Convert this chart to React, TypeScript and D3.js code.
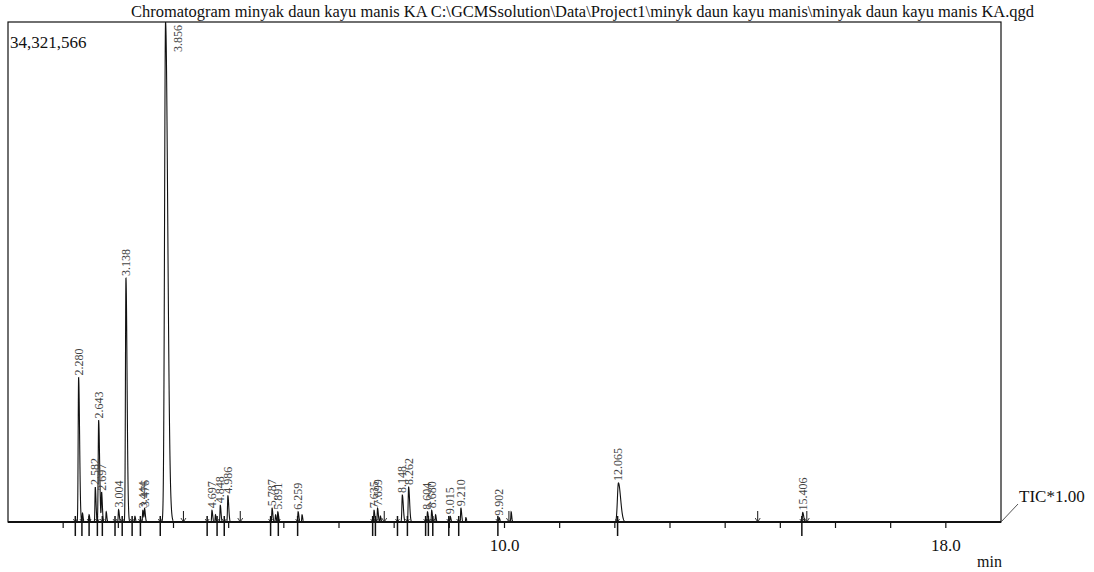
import React from "react";
import * as d3 from "d3";

const TITLE = "Chromatogram minyak daun kayu manis KA C:\\GCMSsolution\\Data\\Project1\\minyk daun kayu manis\\minyak daun kayu manis KA.qgd";
const MAX_INTENSITY = 34321566;
const MAX_LABEL = "34,321,566";

// labelled peaks: retention time (min), intensity, sigma (min)
const peakTimes = [2.280, 2.582, 2.643, 2.697, 3.004, 3.138, 3.444, 3.476, 3.856, 4.697, 4.848, 4.986, 5.787, 5.891, 6.259, 7.635, 7.699, 8.148, 8.262, 8.604, 8.680, 9.015, 9.210, 9.902, 12.065, 15.406];
const peakHeights = [9920000, 2400000, 6970000, 2000000, 850000, 16750000, 800000, 900000, 34321566, 800000, 1150000, 1800000, 950000, 700000, 700000, 800000, 950000, 1850000, 2400000, 700000, 800000, 400000, 950000, 300000, 2680000, 650000];
const peakSigmas = [0.008, 0.006, 0.008, 0.006, 0.006, 0.009, 0.006, 0.006, 0.018, 0.006, 0.006, 0.007, 0.006, 0.006, 0.006, 0.006, 0.006, 0.008, 0.008, 0.006, 0.006, 0.006, 0.006, 0.006, 0.018, 0.008];

// unlabelled small peaks
const minorTimes = [2.35, 2.47, 2.78, 3.30, 4.76, 5.85, 6.33, 7.75, 8.75, 9.30, 10.12];
const minorHeights = [600000, 500000, 700000, 400000, 500000, 500000, 500000, 400000, 500000, 300000, 700000];

// integration marks (peak start) below the baseline
const markTimes = [2.22, 2.34, 2.47, 2.62, 2.71, 2.94, 3.07, 3.25, 3.40, 3.76, 4.61, 4.79, 4.92, 5.76, 5.90, 6.25, 7.61, 7.66, 8.06, 8.24, 8.57, 8.62, 8.70, 8.99, 9.17, 9.88, 12.05, 15.39];
// arrows standing on the baseline
const arrowTimes = [4.18, 5.21, 7.82, 10.08, 14.59, 15.48];

const axisTicks = [2, 3, 4, 5, 6, 7, 8, 9, 10, 11, 12, 13, 14, 15, 16, 17, 18];
const axisLabels = [10.0, 18.0];
const X_DOMAIN = [1.0, 19.0];

export default function App() {
  const left = 8, right = 1001, top = 22, bottom = 522;
  const x = d3.scaleLinear().domain(X_DOMAIN).range([left, right]);
  const y = d3.scaleLinear().domain([0, MAX_INTENSITY]).range([bottom, top]);

  const allT = [...peakTimes, ...minorTimes];
  const allH = [...peakHeights, ...minorHeights];
  const allS = [...peakSigmas, ...minorTimes.map(() => 0.005)];
  const tail = 2.2;

  const step = 0.0015;
  const pts: [number, number][] = [];
  for (let t = X_DOMAIN[0]; t <= X_DOMAIN[1] + 1e-9; t += step) {
    let v = 0;
    for (let i = 0; i < allT.length; i++) {
      const d = t - allT[i];
      const s = d < 0 ? allS[i] : allS[i] * tail;
      if (Math.abs(d) < s * 8) v += allH[i] * Math.exp(-(d * d) / (2 * s * s));
    }
    pts.push([t, v]);
  }
  const line = d3.line<[number, number]>().x(d => x(d[0])).y(d => y(d[1]));

  const font = "'Liberation Serif', 'Times New Roman', serif";

  return (
    <svg width={1094} height={572} style={{ position: "absolute", left: 0, top: 0, background: "#fff" }} fontFamily={font}>
      <defs>
        <clipPath id="plotclip">
          <rect x={left} y={top - 1} width={right - left} height={bottom - top + 2} />
        </clipPath>
      </defs>
      <text x={131} y={17} fontSize={16} textLength={903} lengthAdjust="spacingAndGlyphs" fill="#111">{TITLE}</text>
      <rect x={left} y={top} width={right - left} height={bottom - top} fill="none" stroke="#111" strokeWidth={1.2} />
      <text x={10} y={48} fontSize={17} fill="#111">{MAX_LABEL}</text>

      {axisTicks.map(t => (
        <line key={"t" + t} x1={x(t)} x2={x(t)} y1={bottom} y2={bottom + 6} stroke="#111" strokeWidth={1.2} />
      ))}
      {axisLabels.map(t => (
        <text key={"l" + t} x={x(t)} y={551} fontSize={17} textAnchor="middle" fill="#111">{t.toFixed(1)}</text>
      ))}
      <text x={1002} y={567} fontSize={16} textAnchor="end" fill="#111">min</text>

      <g clipPath="url(#plotclip)">
        <path d={line(pts) || ""} fill="none" stroke="#111" strokeWidth={1.1} />
      </g>
      <line x1={left} x2={right} y1={bottom} y2={bottom} stroke="#111" strokeWidth={2} />

      {markTimes.map((t, i) => (
        <g key={"m" + i} stroke="#111" strokeWidth={1.5}>
          <line x1={x(t)} x2={x(t)} y1={bottom - 6} y2={bottom + 14} />
          <path d={`M${x(t) - 2},${bottom - 3} L${x(t)},${bottom} L${x(t) + 2},${bottom - 3}`} fill="none" strokeWidth={0.8} />
        </g>
      ))}
      {arrowTimes.map((t, i) => (
        <g key={"a" + i} stroke="#111" strokeWidth={1}>
          <line x1={x(t)} x2={x(t)} y1={bottom - 11} y2={bottom} />
          <path d={`M${x(t) - 2.5},${bottom - 4} L${x(t)},${bottom} L${x(t) + 2.5},${bottom - 4}`} fill="none" strokeWidth={0.8} />
        </g>
      ))}

      {peakTimes.map((t, i) => {
        const h = peakHeights[i];
        const atTop = h >= MAX_INTENSITY * 0.98;
        const px = atTop ? x(t) + 16 : x(t) + 4;
        const py = atTop ? top + 3 : y(h) - 2;
        return (
          <text key={"p" + i} x={px} y={py} fontSize={12} fill="#444"
            textAnchor={atTop ? "end" : "start"}
            transform={`rotate(-90 ${px} ${py})`}>{t.toFixed(3)}</text>
        );
      })}

      <line x1={right} y1={bottom} x2={1018} y2={504} stroke="#555" strokeWidth={1} />
      <text x={1019} y={502} fontSize={17} fill="#111">TIC*1.00</text>
    </svg>
  );
}
